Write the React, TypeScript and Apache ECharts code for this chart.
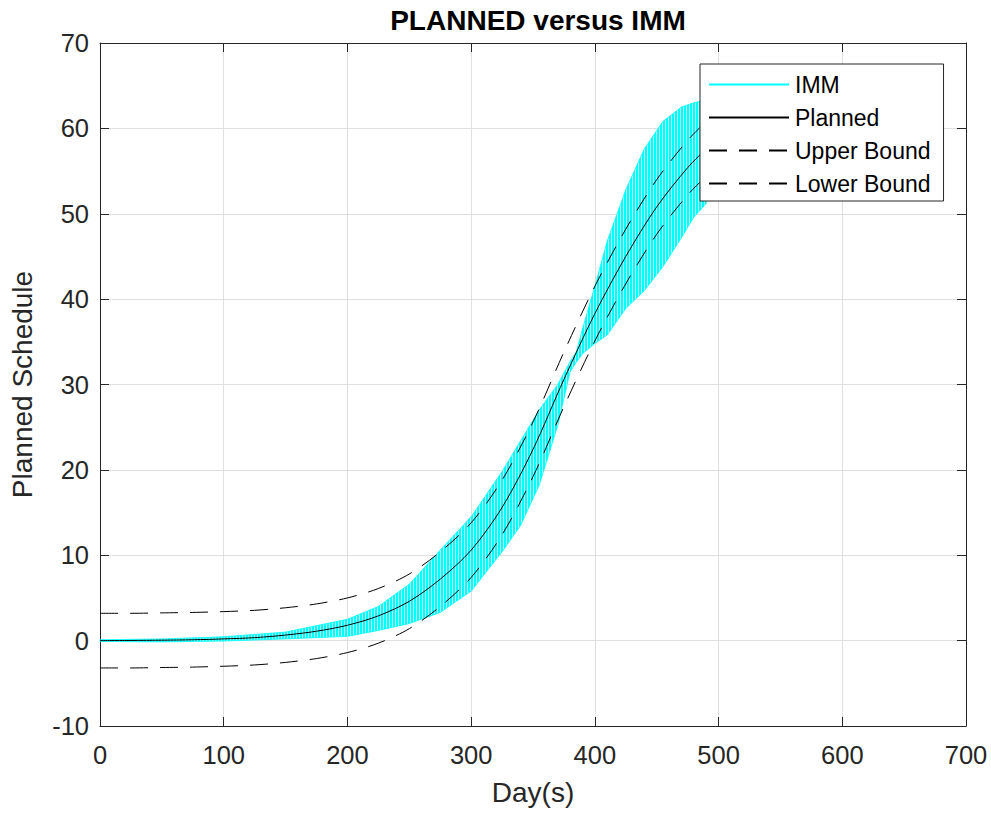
import React, { useEffect, useRef } from "react";
import * as echarts from "echarts";

// ---- data ----
const planDays = [0, 25, 50, 75, 100, 125, 150, 175, 200, 225, 250, 275, 300, 325, 350, 375, 400, 425, 450, 475, 490];
const planned = [0, 0.02, 0.05, 0.1, 0.2, 0.35, 0.65, 1.1, 1.8, 2.9, 4.6, 7.2, 10.6, 15.6, 22.4, 30.6, 38.3, 45.0, 50.8, 55.4, 57.6];
const upperBound = [3.2, 3.2, 3.25, 3.3, 3.4, 3.55, 3.85, 4.3, 5.0, 6.1, 7.8, 10.4, 13.8, 18.8, 25.6, 33.8, 41.5, 48.2, 54.0, 58.6, 60.8];
const lowerBound = [-3.2, -3.2, -3.15, -3.1, -3.0, -2.85, -2.55, -2.1, -1.4, -0.3, 1.4, 4.0, 7.4, 12.4, 19.2, 27.4, 35.1, 41.8, 47.6, 52.2, 54.4];

// IMM oscillation envelope (upper and lower extent of the cyan band)
const immDays = [0, 50, 100, 150, 200, 225, 250, 275, 300, 325, 340, 355, 370, 380, 385, 390, 400, 410, 425, 440, 455, 470, 480, 490];
const immHi = [0.1, 0.2, 0.45, 1.0, 2.5, 4.0, 6.6, 10.6, 14.5, 19.8, 23.4, 27.0, 30.0, 32.7, 33.8, 36.5, 41.5, 46.8, 52.8, 57.6, 60.8, 62.5, 63.0, 63.3];
const immLo = [-0.1, -0.15, -0.05, 0.2, 0.5, 1.2, 2.0, 3.3, 5.8, 10.4, 13.5, 18.2, 25.2, 31.5, 32.6, 33.6, 34.8, 35.8, 38.9, 41.0, 43.8, 47.2, 49.6, 51.2];

const legendNames = ["IMM", "Planned", "Upper Bound", "Lower Bound"];
const xRange = { min: 0, max: 700, step: 100 };
const yRange = { min: -10, max: 70, step: 10 };

function makeStripeFill(): any {
  try {
    const c = document.createElement("canvas");
    c.width = 3;
    c.height = 4;
    const ctx = c.getContext("2d");
    if (!ctx) return "#00ffff";
    ctx.fillStyle = "#00ffff";
    ctx.fillRect(0, 0, 3, 4);
    ctx.fillStyle = "#b4ffff";
    ctx.fillRect(2, 0, 1, 4);
    return { image: c, repeat: "repeat", imageWidth: 3, imageHeight: 4 };
  } catch (e) {
    return "#00ffff";
  }
}

export default function App() {
  const ref = useRef<HTMLDivElement>(null);

  useEffect(() => {
    if (!ref.current) return;
    const chart = echarts.init(ref.current, null, { renderer: "svg" });
    const font = "'Liberation Sans', Arial, Helvetica, sans-serif";
    const axisColor = "#262626";
    const pairs = (xs: number[], ys: number[]) => xs.map((x, i) => [x, ys[i]]);
    const stripeFill = makeStripeFill();

    const xBase = { type: "value", min: xRange.min, max: xRange.max, interval: xRange.step };
    const yBase = { type: "value", min: yRange.min, max: yRange.max, interval: yRange.step };
    const axisLine = { show: true, onZero: false, lineStyle: { color: axisColor, width: 1 } };
    const axisTick = { show: true, inside: true, length: 9, lineStyle: { color: axisColor, width: 1 } };
    const tickFont = 25.5;
    const labelFont = 28;

    const lineSeries = (name: string, ys: number[], dashed: boolean) => ({
      type: "line",
      name,
      data: pairs(planDays, ys),
      symbol: "none",
      smooth: 0.3,
      z: 3,
      itemStyle: { color: "#000000" },
      lineStyle: { color: "#000000", width: 1, type: dashed ? [18, 12] : "solid" },
    });

    chart.setOption({
      animation: false,
      backgroundColor: "#ffffff",
      title: {
        text: "PLANNED versus IMM",
        left: 533,
        top: 1,
        textAlign: "center",
        textStyle: { fontFamily: font, fontWeight: "bold", fontSize: labelFont, color: "#000000" },
      },
      grid: { left: 99, right: 25, top: 43, bottom: 87, containLabel: false },
      legend: {
        orient: "vertical",
        left: 700,
        top: 64,
        data: legendNames,
        itemWidth: 80,
        itemHeight: 14,
        itemGap: 10,
        padding: [9, 13, 6, 8],
        backgroundColor: "#ffffff",
        borderColor: axisColor,
        borderWidth: 1,
        borderRadius: 0,
        selectedMode: false,
        itemStyle: { opacity: 0 },
        textStyle: { fontFamily: font, fontSize: 23, color: "#000000", lineHeight: 23, padding: [0, 0, 0, 1] },
      },
      xAxis: [
        {
          ...xBase,
          position: "bottom",
          name: "Day(s)",
          nameLocation: "middle",
          nameGap: 52,
          nameTextStyle: { fontFamily: font, fontSize: labelFont, color: axisColor },
          axisLine,
          axisTick,
          axisLabel: { fontFamily: font, fontSize: tickFont, color: axisColor, margin: 16 },
          splitLine: { show: true, lineStyle: { color: "#dfdfdf", width: 1 } },
        },
        {
          ...xBase,
          position: "top",
          axisLine,
          axisTick,
          axisLabel: { show: false },
          splitLine: { show: false },
        },
      ],
      yAxis: [
        {
          ...yBase,
          position: "left",
          name: "Planned Schedule",
          nameLocation: "middle",
          nameGap: 64,
          nameTextStyle: { fontFamily: font, fontSize: labelFont, color: axisColor },
          axisLine,
          axisTick,
          axisLabel: { fontFamily: font, fontSize: tickFont, color: axisColor, margin: 11 },
          splitLine: { show: true, lineStyle: { color: "#dfdfdf", width: 1 } },
        },
        {
          ...yBase,
          position: "right",
          axisLine,
          axisTick,
          axisLabel: { show: false },
          splitLine: { show: false },
        },
      ],
      series: [
        {
          type: "custom",
          name: "IMM band",
          coordinateSystem: "cartesian2d",
          xAxisIndex: 0,
          yAxisIndex: 0,
          silent: true,
          z: 1,
          data: [[immDays[0], immHi[0]]],
          renderItem: (_params: any, api: any) => {
            const pts: number[][] = [];
            immDays.forEach((d, i) => pts.push(api.coord([d, immHi[i]])));
            for (let i = immDays.length - 1; i >= 0; i--) pts.push(api.coord([immDays[i], immLo[i]]));
            return {
              type: "polygon",
              shape: { points: pts },
              style: { fill: stripeFill, stroke: "#00ffff", lineWidth: 0.8 },
            };
          },
        },
        {
          type: "line",
          name: "IMM",
          data: [],
          symbol: "none",
          itemStyle: { color: "#00ffff" },
          lineStyle: { color: "#00ffff", width: 1 },
        },
        lineSeries("Planned", planned, false),
        lineSeries("Upper Bound", upperBound, true),
        lineSeries("Lower Bound", lowerBound, true),
      ],
    });

    return () => chart.dispose();
  }, []);

  return (
    <div
      ref={ref}
      style={{ position: "fixed", left: 0, top: 0, width: 991, height: 813, background: "#fff" }}
    />
  );
}
